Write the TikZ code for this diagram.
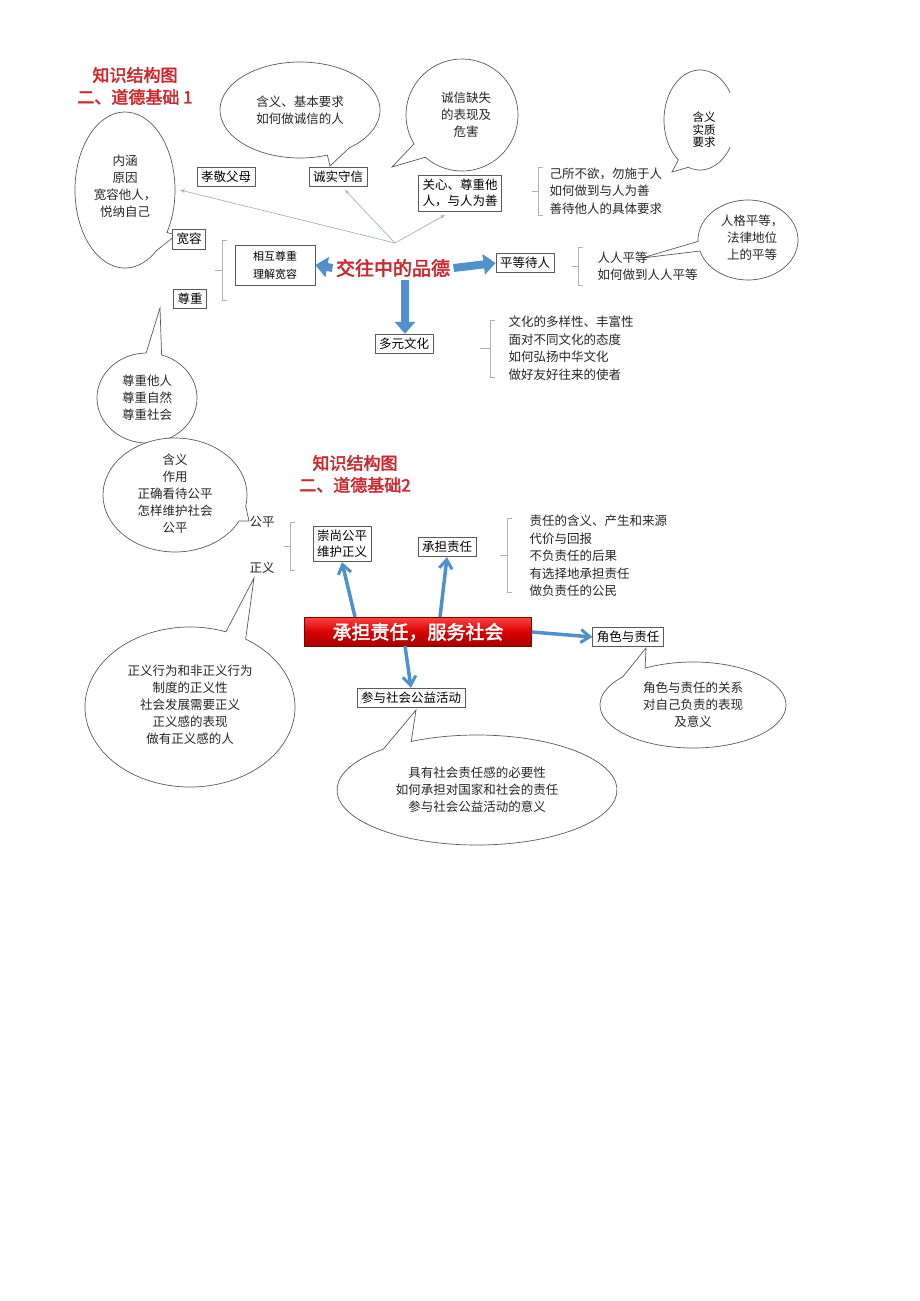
\documentclass[tikz,border=0pt]{standalone}
\usepackage{fontspec}
\setmainfont{Noto Sans CJK SC}
\newfontfamily\cjkb[FakeBold=2.5]{Noto Sans CJK SC}
\usetikzlibrary{arrows.meta}
\definecolor{ttl}{RGB}{205,40,45}
\definecolor{arr}{RGB}{80,145,205}
\definecolor{ln}{RGB}{90,90,90}
\definecolor{thin}{RGB}{165,180,195}
\newcommand\bubble[8]{%
  \draw[bub] (#1,-#2) ++(#7+#8:#3pt and #4pt)
    arc[start angle=#7+#8, end angle=#7-#8+360, x radius=#3pt, y radius=#4pt]
    -- (#5,-#6) -- cycle;}
\newcommand\mybrk[4]{% x, ytop, ybot, tick-left x
  \draw[brk] (#1+5,-#2) -- (#1,-#2) -- (#1,-#3) -- (#1+5,-#3);
  \draw[brk] (#1,-#2/2-#3/2) -- (#4,-#2/2-#3/2);}
\begin{document}
\begin{tikzpicture}[x=1pt,y=1pt,
  bub/.style={draw=ln,line width=0.7pt,fill=white},
  box/.style={draw=ln,line width=0.8pt,fill=white,inner sep=4pt,font=\fontsize{12.5}{16}\selectfont,align=center},
  txt/.style={font=\fontsize{12.5}{17}\selectfont,align=center,text=black!85},
  lst/.style={font=\fontsize{12.5}{17.5}\selectfont,align=left,anchor=west,text=black!85},
  title/.style={font=\cjkb\fontsize{17}{22}\selectfont,text=ttl,align=center},
  brk/.style={draw=gray!60,line width=0.8pt},
  fat/.style={draw=arr,line width=8pt,-{Triangle[width=20pt,length=12pt]}},
  blu/.style={draw=arr,line width=3.5pt,-{Straight Barb[width=13pt,length=9pt,line width=3pt]}},
  tn/.style={draw=thin,line width=0.7pt,-{Stealth[length=5pt]}}]
\useasboundingbox (0,0) rectangle (920,-1301);
\fill[white] (0,0) rectangle (920,-1301);
% ---------- part 1 ----------
\node[title] (t1) at (135,-86) {知识结构图\\二、道德基础 1};
\bubble{300}{110}{80}{48}{330}{166}{-61}{9}
\node[txt] (b1) at (300,-110) {含义、基本要求\\如何做诚信的人};
\bubble{462}{115}{56}{56}{392}{167}{-140}{9}
\node[txt] (b2) at (466,-115) {诚信缺失\\的表现及\\危害};
\begin{scope}
\clip (640,-60) rectangle (730,-200);
\bubble{700}{120}{36}{50}{672}{172}{-118}{9}
\end{scope}
\node[font=\fontsize{11.5}{12.5}\selectfont,align=center] (b3) at (704,-130) {含义\\实质\\要求};
\bubble{125}{190}{50}{78}{176}{235}{-42}{9}
\node[txt] (b4) at (125,-186) {内涵\\原因\\宽容他人，\\悦纳自己};
\bubble{147}{398}{50}{45}{160}{308}{82}{9}
\node[txt] (b5) at (147,-398) {尊重他人\\尊重自然\\尊重社会};
\bubble{748}{240}{50}{40}{642}{258}{-171}{7}
\node[txt] (b6) at (752,-238) {人格平等，\\法律地位\\上的平等};

\node[box] (xj) at (226,-177) {孝敬父母};
\node[box] (cs) at (338,-177) {诚实守信};
\node[box] (gx) at (460,-193) {关心、尊重他\\人，与人为善};
\node[box] (kr) at (189,-239) {宽容};
\node[box] (zz) at (190,-299) {尊重};
\node[box,font=\fontsize{11}{18}\selectfont,align=left,minimum width=80pt,minimum height=40pt] (xh) at (275,-265) {相互尊重\\理解宽容};
\node[font=\cjkb\fontsize{19}{22}\selectfont,text=ttl] (jw) at (393,-268) {交往中的品德};
\node[box] (pd) at (525,-263) {平等待人};
\node[box] (dy) at (404,-344) {多元文化};
\coordinate (hub) at (395,-243);
\draw[tn] (hub) -- (180,-190);
\draw[tn] (hub) -- (345,-190);
\draw[tn] (hub) -- (445,-215);
\draw[fat] (jw.west) -- (xh.east);
\draw[fat] (jw.east) -- (pd.west);
\coordinate (d0) at (405,-280);
\draw[fat] (d0) -- (dy.north -| d0);
\mybrk{222}{240}{300}{215}
\mybrk{538}{167}{215}{532}
\node[lst] (l1) at (546,-191) {己所不欲，勿施于人\\如何做到与人为善\\善待他人的具体要求};
\mybrk{578}{247}{285}{572}
\node[lst] (l2) at (594,-266) {人人平等\\如何做到人人平等};
\mybrk{490}{320}{377}{480}
\node[lst] (l3) at (505,-348) {文化的多样性、丰富性\\面对不同文化的态度\\如何弘扬中华文化\\做好友好往来的使者};
% ---------- part 2 ----------
\node[title] (t2) at (355,-474) {知识结构图\\二、道德基础2};
\bubble{175}{495}{72}{57}{249}{521}{-19}{8}
\node[txt] (c1) at (175,-494) {含义\\作用\\正确看待公平\\怎样维护社会\\公平};
\bubble{190}{707}{105}{80}{254}{578}{64}{6}
\node[txt] (c2) at (190,-705) {正义行为和非正义行为\\制度的正义性\\社会发展需要正义\\正义感的表现\\做有正义感的人};
\bubble{693}{705}{93}{43}{646}{648}{130}{9}
\node[txt] (c3) at (693,-705) {角色与责任的关系\\对自己负责的表现\\及意义};
\bubble{477}{790}{140}{55}{416}{710}{125}{7}
\node[txt] (c4) at (477,-790) {具有社会责任感的必要性\\如何承担对国家和社会的责任\\参与社会公益活动的意义};

\node[txt] (gp) at (262,-522) {公平};
\node[txt] (zy) at (262,-568) {正义};
\mybrk{290}{522}{570}{284}
\node[box] (sg) at (342,-544) {崇尚公平\\维护正义};
\node[box] (cd) at (447,-547) {承担责任};
\mybrk{507}{518}{592}{500}
\node[lst] (l4) at (526,-556) {责任的含义、产生和来源\\代价与回报\\不负责任的后果\\有选择地承担责任\\做负责任的公民};
\node[draw=red!50!black,top color=red!75!white,bottom color=red!65!black,middle color=red!85!black,minimum width=227pt,minimum height=29pt,font=\cjkb\fontsize{19}{22}\selectfont,text=white] (main) at (418,-632) {承担责任，服务社会};
\node[box] (js) at (628,-637) {角色与责任};
\node[box] (cy) at (411,-698) {参与社会公益活动};
\coordinate (m1) at (355,-617);
\coordinate (m2) at (440,-617);
\coordinate (m3) at (405,-646);
\draw[blu] (m1) -- (sg.south);
\draw[blu] (m2) -- (cd.south);
\draw[blu] (main.east) -- (js.west);
\draw[blu] (m3) -- (cy.north);
\end{tikzpicture}
\end{document}
